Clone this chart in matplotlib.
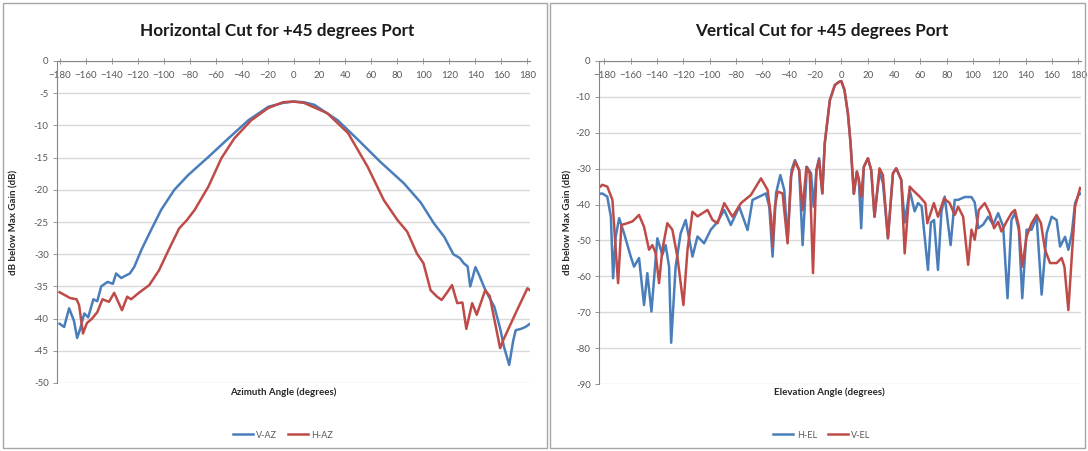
import matplotlib
matplotlib.use("Agg")
import matplotlib.pyplot as plt
from matplotlib.patches import Rectangle
from matplotlib import font_manager

W, H = 1088, 451

# ---- Horizontal cut (azimuth) ----
az_v_deg = [-180, -176.5, -172.7, -169, -166.5, -164, -161, -158, -154, -151, -148, -143,
            -139, -136.5, -132.6, -129, -126, -122.6, -117, -109.5, -101.8, -91.7, -81,
            -65.5, -50, -34.7, -19.3, -8, 0, 8, 16, 34, 50, 67, 85, 98, 108, 116, 123,
            128, 131, 134, 136, 140, 143, 147.5, 154.6, 159, 162, 166, 169, 171, 175,
            178.5, 182]
az_v_val = [-40.8, -41.3, -38.4, -40.3, -43.0, -41.5, -39.2, -39.8, -37.0, -37.3, -35.0,
            -34.3, -34.6, -33.0, -33.7, -33.3, -33.0, -32.0, -29.3, -26.2, -23.1, -20.0,
            -17.7, -14.9, -12.0, -9.2, -7.1, -6.5, -6.3, -6.4, -6.8, -9.2, -12.3, -15.7,
            -19.0, -22.0, -25.2, -27.3, -30.0, -30.6, -31.4, -31.9, -35.0, -32.0, -33.3,
            -35.5, -38.2, -41.5, -44.4, -47.2, -43.5, -41.8, -41.6, -41.3, -40.8]

az_h_deg = [-180, -172, -167, -165, -162, -159, -155, -151, -147, -142, -138, -132, -128,
            -125, -119, -111, -103.5, -96, -88, -82, -76, -65.5, -55.5, -45.5, -32.5,
            -19.5, -8, 0, 8, 26, 42, 57, 69.5, 80, 87.5, 95, 100, 105.5, 110.5, 114, 118,
            122, 126, 130, 133, 137.5, 141, 147.5, 151, 159, 161.5, 172, 180, 182]
az_h_val = [-35.9, -36.8, -37.0, -37.9, -42.3, -40.7, -40.0, -39.0, -37.0, -37.4, -36.0,
            -38.7, -36.6, -37.0, -36.0, -34.8, -32.5, -29.3, -26.0, -24.7, -23.1, -19.5,
            -15.1, -12.0, -9.2, -7.3, -6.4, -6.3, -6.5, -8.1, -11.2, -16.4, -21.6, -24.7,
            -26.5, -29.9, -31.4, -35.6, -36.6, -37.1, -36.0, -34.8, -37.6, -37.5, -41.6,
            -37.6, -39.4, -35.6, -36.5, -44.6, -43.3, -38.7, -35.3, -35.6]

# ---- Vertical cut (elevation) ----
el_h_deg = [-183, -181.5, -177.7, -175, -173.3, -171.3, -168.7, -165, -159.9, -157.4,
            -153.6, -149.8, -147.3, -144.2, -139.7, -135.9, -133.4, -130.8, -129.2,
            -125.8, -122, -118.2, -113, -109.2, -104.2, -99.1, -94, -88.9, -83.9, -77.5,
            -71.2, -67.4, -62.3, -57.3, -54.7, -52.2, -49.6, -46.3, -43.3, -40.8, -37.8,
            -35.2, -32, -29.4, -26.1, -23, -21, -18.9, -16.9, -14.4, -12.6, -8.7, -4.9,
            -1.6, 0, 2.4, 5, 7, 9.5, 11.8, 13.3, 15.1, 17.1, 20.2, 22.7, 25.2, 29, 31.6,
            35.4, 39.2, 41.7, 45.5, 48.1, 51.9, 55.7, 58.2, 61, 65.8, 68, 70.4, 73.4, 76,
            78.5, 83, 86.1, 88.7, 93.7, 98.8, 101.3, 103.9, 107.7, 111.5, 115.3, 119.1,
            122.9, 126.2, 129.2, 131.8, 134.8, 137.4, 140.7, 144.5, 148.3, 152.1, 155.9,
            159.7, 163.5, 166.1, 169.9, 172.4, 175, 177.5, 180, 181.5]
el_h_val = [-37.0, -36.9, -37.8, -43.4, -60.5, -48.9, -43.8, -48.0, -54.5, -57.3, -54.9,
            -68.0, -59.1, -69.8, -49.4, -54.0, -51.3, -57.3, -78.5, -57.3, -48.0, -44.3,
            -54.5, -48.9, -50.8, -47.0, -44.8, -41.5, -45.7, -40.6, -47.1, -38.7, -37.8,
            -36.9, -40.6, -54.5, -36.9, -31.8, -36.0, -50.3, -30.4, -27.6, -30.4, -51.3,
            -29.5, -31.3, -40.6, -30.4, -27.1, -36.9, -23.0, -10.9, -6.7, -5.8, -5.6,
            -8.1, -14.6, -22.9, -37.0, -30.8, -33.1, -46.6, -29.5, -27.1, -30.4, -43.4,
            -31.0, -34.0, -49.4, -31.3, -29.9, -33.1, -45.0, -36.0, -41.9, -39.6, -40.5,
            -58.2, -45.0, -44.3, -58.2, -42.0, -37.8, -51.3, -38.7, -38.7, -37.9, -37.9,
            -39.4, -46.6, -45.6, -43.4, -45.6, -42.4, -46.1, -66.1, -44.3, -42.4, -47.0,
            -66.1, -47.0, -47.0, -43.4, -65.1, -48.0, -43.4, -44.3, -51.7, -49.0, -52.6,
            -48.0, -39.6, -37.4, -37.0]

el_v_deg = [-183, -181.5, -177.7, -173.8, -171.3, -169.5, -167, -162.5, -158.6, -153.6,
            -149.8, -146, -143.5, -141, -138.4, -135.9, -132.1, -128.3, -124.5, -119.9,
            -116.8, -113, -109.2, -105.4, -101.6, -97.8, -94, -88.9, -82.6, -76.2, -68.6,
            -61, -56, -53.4, -52.2, -50.4, -48.4, -44.6, -40.8, -38.3, -35.2, -32, -29.4,
            -26.5, -24, -21.5, -18.9, -16.9, -14.4, -12.6, -8.7, -4.9, -1.6, 0, 2.4, 5, 7,
            9.5, 11.8, 13.3, 15.1, 17.1, 20.2, 22.7, 25.2, 29, 31.6, 35.4, 39.2, 41.7,
            45.5, 48.1, 51.9, 54.4, 59.5, 63.8, 65.3, 70.3, 73.4, 78, 82.3, 86.1, 88.7,
            92.5, 96.3, 98.8, 101.3, 104.4, 108.9, 112.7, 116, 119.1, 121.6, 125.4, 129.2,
            131.8, 134.8, 137.4, 140.7, 144.5, 148.3, 151.6, 154.7, 158.5, 163.5, 167.3,
            169.4, 172.4, 175, 177.5, 181.3]
el_v_val = [-35.0, -34.5, -35.0, -38.7, -52.6, -61.9, -45.7, -45.2, -44.7, -42.9, -46.2,
            -52.6, -51.3, -53.5, -61.9, -52.6, -45.2, -47.0, -54.5, -68.0, -52.6, -42.0,
            -43.3, -42.4, -41.5, -44.3, -45.2, -39.6, -43.4, -39.6, -37.3, -32.7, -35.9,
            -43.4, -51.7, -40.6, -36.4, -36.9, -50.8, -32.2, -28.0, -30.4, -41.5, -29.5,
            -31.3, -59.1, -30.4, -27.6, -36.9, -23.0, -10.9, -6.7, -5.8, -5.6, -8.1,
            -14.6, -22.9, -37.0, -30.8, -33.1, -37.8, -29.5, -27.1, -30.4, -43.4, -29.9,
            -31.8, -49.4, -31.3, -29.9, -33.1, -53.6, -35.0, -36.0, -37.8, -39.6, -45.2,
            -39.6, -43.4, -38.3, -39.6, -42.9, -40.6, -43.4, -56.8, -47.0, -49.8, -41.5,
            -39.6, -42.4, -46.6, -44.8, -47.5, -44.8, -42.4, -41.5, -46.1, -57.3, -48.9,
            -45.2, -42.9, -45.2, -52.6, -56.3, -56.3, -54.9, -57.3, -69.4, -54.5, -40.6,
            -35.4]

x_ticks = list(range(-180, 181, 20))
az_y_ticks = list(range(-50, 1, 5))
el_y_ticks = list(range(-90, 1, 10))

BLUE = "#4a7ebb"
RED = "#be4b48"
GRID = "#d9d9d9"
AXIS = "#868686"
TXT = "#595959"

installed = {f.name for f in font_manager.fontManager.ttflist}
FONT = "Liberation Sans Narrow" if "Liberation Sans Narrow" in installed else "Lato"
plt.rcParams["font.family"] = [FONT, "DejaVu Sans"]

fig = plt.figure(figsize=(W / 100, H / 100), dpi=100)


def px(x0, y0, x1, y1):
    """Axes rectangle from pixel corners (top-left, bottom-right)."""
    return [x0 / W, 1 - y1 / H, (x1 - x0) / W, (y1 - y0) / H]


def style_axes(ax, yticks, xlim):
    ax.set_xlim(*xlim)
    ax.set_ylim(min(yticks), 0)
    ax.set_xticks(x_ticks)
    ax.set_yticks(yticks)
    ax.set_yticklabels([str(v) for v in yticks])
    for s in ("top", "right"):
        ax.spines[s].set_visible(False)
    ax.spines["bottom"].set_position(("data", 0))
    ax.spines["bottom"].set_color(AXIS)
    ax.spines["left"].set_color(AXIS)
    ax.spines["bottom"].set_linewidth(0.8)
    ax.spines["left"].set_linewidth(0.8)
    ax.yaxis.grid(True, color=GRID, lw=1.0)
    ax.set_axisbelow(True)
    ax.tick_params(axis="x", direction="inout", length=4, width=0.6, color=AXIS,
                   labelsize=7, labelcolor=TXT, pad=5)
    ax.tick_params(axis="y", direction="out", length=3, width=0.6, color=AXIS,
                   labelsize=7, labelcolor=TXT, pad=3)


# panel frames
for (x0, x1) in ((3, 547), (550, 1085)):
    fig.add_artist(Rectangle((x0 / W, 3 / H), (x1 - x0) / W, (448 - 3) / H,
                             transform=fig.transFigure, fill=False,
                             edgecolor="#a6a6a6", lw=1.0))

# left chart
ax1 = fig.add_axes(px(57, 61, 530, 383))
ax1.plot(az_v_deg, az_v_val, color=BLUE, lw=1.8, label="V-AZ")
ax1.plot(az_h_deg, az_h_val, color=RED, lw=1.8, label="H-AZ")
style_axes(ax1, az_y_ticks, (-182, 182))

# right chart
ax2 = fig.add_axes(px(599, 61, 1081, 384))
ax2.plot(el_h_deg, el_h_val, color=BLUE, lw=1.8, label="H-EL")
ax2.plot(el_v_deg, el_v_val, color=RED, lw=1.8, label="V-EL")
style_axes(ax2, el_y_ticks, (-184, 182))

# titles and axis labels
fig.text(277 / W, 1 - 31 / H, "Horizontal Cut for +45 degrees Port", ha="center",
         va="center", fontsize=12.3, fontweight="bold", color="#1a1a1a")
fig.text(822 / W, 1 - 31 / H, "Vertical Cut for +45 degrees Port", ha="center",
         va="center", fontsize=12.3, fontweight="bold", color="#1a1a1a")

fig.text(14 / W, 1 - 222 / H, "dB below Max Gain (dB)", rotation=90, ha="center",
         va="center", fontsize=7, fontweight="bold", color="#262626")
fig.text(568 / W, 1 - 222 / H, "dB below Max Gain (dB)", rotation=90, ha="center",
         va="center", fontsize=7, fontweight="bold", color="#262626")
fig.text(283 / W, 1 - 392 / H, "Azimuth Angle (degrees)", ha="center", va="center",
         fontsize=7, fontweight="bold", color="#262626")
fig.text(829 / W, 1 - 392 / H, "Elevation Angle (degrees)", ha="center", va="center",
         fontsize=7, fontweight="bold", color="#262626")

# legends
for ax, cx in ((ax1, 283), (ax2, 822)):
    leg = ax.legend(loc="center", bbox_to_anchor=(cx / W, 1 - 435 / H),
                    bbox_transform=fig.transFigure, ncol=2, frameon=False,
                    fontsize=6.5, handlelength=2.2, handletextpad=0.4,
                    columnspacing=1.2)
    for t in leg.get_texts():
        t.set_color(TXT)

fig.savefig("out.png", dpi=100, facecolor="white")
